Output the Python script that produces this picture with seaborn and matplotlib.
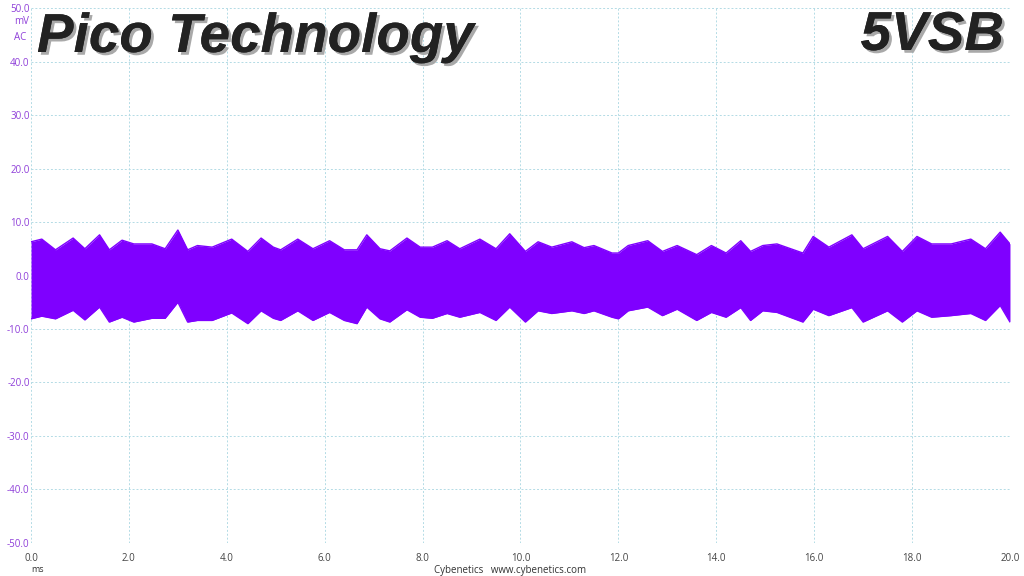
import numpy as np
import pandas as pd
import matplotlib
matplotlib.use('Agg')
import matplotlib.pyplot as plt
import matplotlib.patheffects as pe
import seaborn as sns

# Envelope of the 5VSB ripple trace (ms, mV)
time_ms = [0.0, 0.22, 0.5, 0.86, 1.1, 1.4, 1.6, 1.86, 2.1, 2.47, 2.74, 3.0, 3.2, 3.4, 3.7,
           4.1, 4.43, 4.7, 4.95, 5.1, 5.45, 5.76, 6.1, 6.4, 6.66, 6.86, 7.13, 7.33, 7.68,
           7.95, 8.2, 8.5, 8.76, 9.17, 9.5, 9.78, 10.1, 10.36, 10.64, 11.05, 11.3, 11.5,
           11.87, 12.0, 12.2, 12.6, 12.9, 13.2, 13.6, 13.9, 14.2, 14.5, 14.7, 14.95, 15.24,
           15.77, 15.98, 16.3, 16.77, 17.0, 17.5, 17.8, 18.1, 18.4, 18.8, 19.2, 19.5, 19.8,
           20.0]
upper_mv = [6.3, 6.8, 4.8, 7.0, 5.0, 7.6, 4.8, 6.6, 5.9, 5.9, 5.0, 8.5, 4.8, 5.6, 5.3,
            6.8, 4.5, 7.0, 5.3, 4.8, 6.8, 5.0, 6.5, 4.8, 4.8, 7.6, 5.0, 4.6, 7.0,
            5.3, 5.3, 6.5, 5.0, 6.8, 5.0, 7.8, 4.5, 6.3, 5.3, 6.3, 5.2, 5.6,
            4.2, 4.2, 5.6, 6.5, 4.5, 5.6, 3.9, 5.6, 4.2, 6.5, 4.5, 5.6, 5.9,
            4.2, 7.3, 5.3, 7.6, 5.0, 7.3, 4.5, 7.3, 5.9, 5.9, 6.8, 5.0, 8.1,
            5.9]
lower_mv = [-8.1, -7.6, -8.1, -6.5, -8.3, -5.9, -8.7, -7.8, -8.7, -8.0, -8.0, -5.0, -8.7, -8.4, -8.4,
            -7.0, -9.0, -6.6, -8.0, -8.4, -6.6, -8.4, -6.9, -8.4, -9.0, -5.9, -8.1, -8.7, -6.4,
            -7.8, -8.0, -7.1, -7.8, -6.9, -8.4, -5.9, -8.7, -6.6, -7.1, -6.6, -7.1, -6.6,
            -7.8, -8.1, -6.6, -5.9, -7.5, -6.3, -8.4, -6.9, -7.8, -6.0, -8.4, -6.6, -6.9,
            -8.7, -6.3, -7.5, -6.0, -8.7, -6.6, -8.7, -6.6, -7.8, -7.5, -7.1, -8.4, -5.6,
            -8.7]

x_ticks = [0, 2, 4, 6, 8, 10, 12, 14, 16, 18, 20]
y_ticks = [-50, -40, -30, -20, -10, 0, 10, 20, 30, 40, 50]

traceColor = '#7f00ff'
labelPurple = '#8f3fd9'
gridColor = '#b3dbe5'

df = pd.DataFrame({'t': time_ms, 'upper': upper_mv, 'lower': lower_mv})

sns.set_style('white')
plt.rcParams['font.family'] = ['Open Sans', 'DejaVu Sans']

fig = plt.figure(figsize=(10.24, 5.76), dpi=100)
ax = fig.add_axes([0.0303, 0.0573, 0.9560, 0.9288])

# band of the trace
ax.fill_between(df['t'], df['lower'], df['upper'], color=traceColor, lw=0, zorder=3)
sns.lineplot(data=df, x='t', y='upper', color=traceColor, lw=1.0, ax=ax, zorder=3)
sns.lineplot(data=df, x='t', y='lower', color=traceColor, lw=1.0, ax=ax, zorder=3)

ax.set_xlim(0, 20)
ax.set_ylim(-50, 50)
ax.set_xticks(x_ticks)
ax.set_yticks(y_ticks)
ax.set_xticklabels([f'{v:.1f}' for v in x_ticks], fontsize=7, color='#444444')
ax.set_yticklabels([f'{v:.1f}' for v in y_ticks], fontsize=7, color=labelPurple)
ax.tick_params(axis='x', length=0, pad=7)
ax.tick_params(axis='y', length=0, pad=1)
ax.set_xlabel('')
ax.set_ylabel('')
ax.grid(True, color=gridColor, ls=(0, (2, 2)), lw=0.7, zorder=0)
for s in ax.spines.values():
    s.set_visible(False)

# unit labels
fig.text(22 / 1024, 1 - 22 / 576, 'mV', fontsize=7, color=labelPurple, ha='center', va='center')
fig.text(20 / 1024, 1 - 37 / 576, 'AC', fontsize=7, color=labelPurple, ha='center', va='center')
fig.text(38 / 1024, 1 - 570 / 576, 'ms', fontsize=6.5, color='#333333', ha='center', va='center')
fig.text(510 / 1024, 1 - 570 / 576, 'Cybenetics   www.cybenetics.com', fontsize=7,
         color='#333333', ha='center', va='center')

# titles
shadow = [pe.withSimplePatchShadow(offset=(2, -2), shadow_rgbFace='#a0a0a0', alpha=0.9),
          pe.Normal()]
fig.text(37 / 1024, 1 - 52 / 576, 'Pico Technology', fontsize=39.5, fontweight='bold',
         fontstyle='italic', family='Liberation Sans', color='#222222', ha='left',
         va='baseline', path_effects=shadow)
fig.text(1004 / 1024, 1 - 50 / 576, '5VSB', fontsize=39.5, fontweight='bold',
         fontstyle='italic', family='Liberation Sans', color='#222222', ha='right',
         va='baseline', path_effects=shadow)

fig.savefig('out.png', dpi=100)
plt.close(fig)
